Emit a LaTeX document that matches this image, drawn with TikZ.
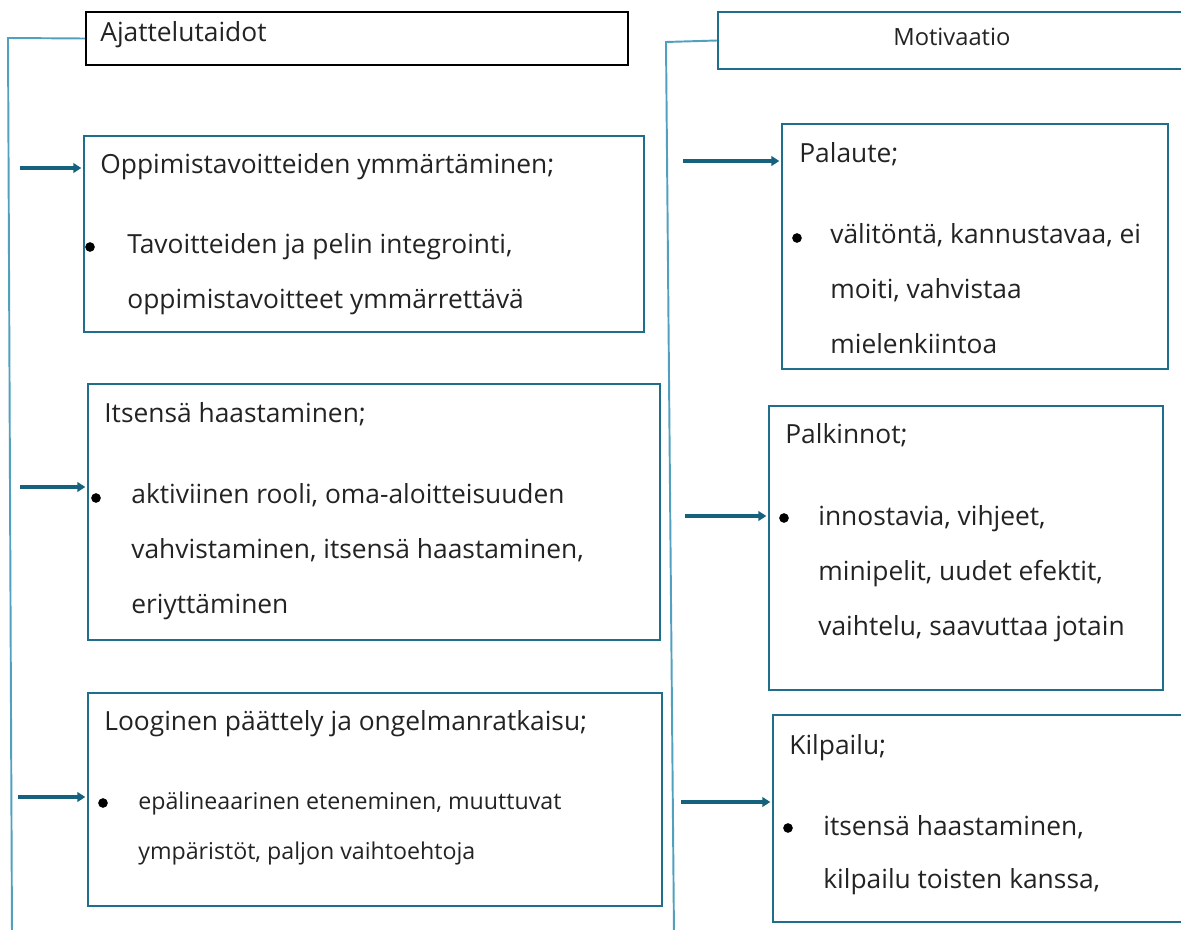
\documentclass[tikz,border=0pt]{standalone}
\usepackage{fontspec}
\setmainfont{Open Sans}
\usepackage{tikz}
\usetikzlibrary{arrows.meta,fit,positioning}
\definecolor{reuna}{RGB}{30,110,140}
\definecolor{nuolivari}{RGB}{22,98,126}
\definecolor{runkovari}{RGB}{80,160,190}
\definecolor{teksti}{RGB}{35,35,35}
\tikzset{
    %Define standard arrow tip
    >={Triangle[length=4.5pt,width=5.5pt]},
    %Define style for boxes
    otsikkolaatikko/.style={
           rectangle,
           draw=black, line width=1.1pt,
           inner sep=0pt},
    laatikko/.style={
           rectangle,
           draw=reuna, line width=1.1pt,
           inner sep=0pt},
    %Define style for texts
    otsikko/.style={
           anchor=base west,
           inner sep=0pt,
           text=teksti,
           font=\fontsize{15}{18}\selectfont},
    % base = baseline of the last line
    kohdat/.style={
           anchor=base west,
           inner sep=0pt,
           align=left,
           text=teksti,
           font=\fontsize{15}{31.2}\selectfont},
    pallo/.style={
           circle,
           fill=black,
           inner sep=0pt,
           minimum size=5.5pt},
    % Define arrow style
    nuoli/.style={
           ->,
           draw=nuolivari,
           line width=2.2pt,
           shorten >=1pt},
    runko/.style={
           draw=runkovari,
           line width=1.1pt}
}
\begin{document}
\begin{tikzpicture}[x=0.02cm,y=-0.02cm]
\useasboundingbox (0,0) rectangle (1181,930);
% otsikot
\node[otsikkolaatikko, fit={(86,12) (628,65)}](ajat){};
\node[otsikko] (ajat-t) at (100,41) {Ajattelutaidot};
\node[laatikko, fit={(718,12) (1200,69)}](moti){};
\node[otsikko, font=\fontsize{13.5}{16}\selectfont] (moti-t) at (893,45) {Motivaatio};
% vasen puoli
\node[laatikko, fit={(84,136) (644,332)}](oppi){};
\node[otsikko] (oppi-t) at (100,173) {Oppimistavoitteiden ymmärtäminen;};
\node[pallo] (oppi-p) at (90,247) {};
\node[kohdat] (oppi-k) at (127,308) {Tavoitteiden ja pelin integrointi,\\oppimistavoitteet ymmärrettävä};
\node[laatikko, fit={(88,384) (660,640)}](itse){};
\node[otsikko] (itse-t) at (104,422) {Itsensä haastaminen;};
\node[pallo] (itse-p) at (96,498) {};
\node[kohdat] (itse-k) at (131,613) {aktiviinen rooli, oma-aloitteisuuden\\vahvistaminen, itsensä haastaminen,\\eriyttäminen};
\node[laatikko, fit={(88,693) (662,906)}](loog){};
\node[otsikko] (loog-t) at (104,730) {Looginen päättely ja ongelmanratkaisu;};
\node[pallo] (loog-p) at (103,803) {};
\node[kohdat, font=\fontsize{13.2}{28.4}\selectfont] (loog-k) at (138,859) {epälineaarinen eteneminen, muuttuvat\\ympäristöt, paljon vaihtoehtoja};
% oikea puoli
\node[laatikko, fit={(782,124) (1168,369)}](pala){};
\node[otsikko] (pala-t) at (799,162) {Palaute;};
\node[pallo] (pala-p) at (797,238) {};
\node[kohdat] (pala-k) at (830,353) {välitöntä, kannustavaa, ei\\moiti, vahvistaa\\mielenkiintoa};
\node[laatikko, fit={(769,406) (1163,690)}](palk){};
\node[otsikko] (palk-t) at (785,443) {Palkinnot;};
\node[pallo] (palk-p) at (784,518) {};
\node[kohdat] (palk-k) at (818,635) {innostavia, vihjeet,\\minipelit, uudet efektit,\\vaihtelu, saavuttaa jotain};
\node[laatikko, fit={(773,715) (1200,922)}](kilp){};
\node[otsikko] (kilp-t) at (789,754) {Kilpailu;};
\node[pallo] (kilp-p) at (788,828) {};
\node[kohdat, font=\fontsize{15}{30}\selectfont] (kilp-k) at (823,888) {itsensä haastaminen,\\kilpailu toisten kanssa,};
% rungot
\coordinate (vasen-yla) at (8,38);
\coordinate (vasen-ala) at (12,935);
\coordinate (oikea-yla) at (666,42);
\coordinate (oikea-ala) at (674,935);
\draw[runko] (ajat.west) -- (vasen-yla) -- (vasen-ala);
\draw[runko] (moti.west) -- (oikea-yla) -- (oikea-ala);
% nuolet
\coordinate (n1) at (20,168);
\coordinate (n2) at (20,487);
\coordinate (n3) at (18,797);
\coordinate (n4) at (683,161);
\coordinate (n5) at (685,516);
\coordinate (n6) at (681,802);
\draw[nuoli] (n1) -- (n1 -| oppi.west);
\draw[nuoli] (n2) -- (n2 -| itse.west);
\draw[nuoli] (n3) -- (n3 -| loog.west);
\draw[nuoli] (n4) -- (n4 -| pala.west);
\draw[nuoli] (n5) -- (n5 -| palk.west);
\draw[nuoli] (n6) -- (n6 -| kilp.west);
\end{tikzpicture}
\end{document}
